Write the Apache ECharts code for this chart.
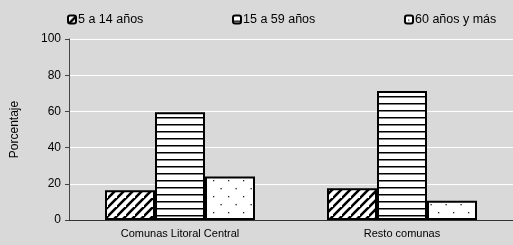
<!DOCTYPE html>
<html>
<head>
<meta charset="utf-8">
<script src="https://cdn.jsdelivr.net/npm/echarts@6/dist/echarts.min.js"></script>
<style>
  html, body { margin: 0; padding: 0; background: #d9d9d9; }
  #chart { width: 513px; height: 245px; }
</style>
</head>
<body>
<div id="chart"></div>
<script>
var categories = ['Comunas Litoral Central', 'Resto comunas'];
var seriesNames = ['5 a 14 años', '15 a 59 años', '60 años y más'];
var edad5a14 = [16.5, 17.5];
var edad15a59 = [59.5, 71.3];
var edad60mas = [24, 10.7];

// patrones de relleno
function makePattern(kind) {
    var c = document.createElement('canvas');
    var ctx = c.getContext('2d');
    if (kind === 'diag') {
        c.width = 9; c.height = 9;
        ctx.fillStyle = '#fff';
        ctx.fillRect(0, 0, 9, 9);
        ctx.strokeStyle = '#000';
        ctx.lineWidth = 2.6;
        ctx.beginPath();
        ctx.moveTo(-2, 11); ctx.lineTo(11, -2);
        ctx.moveTo(-11, 11); ctx.lineTo(2, -2);
        ctx.moveTo(7, 20); ctx.lineTo(20, 7);
        ctx.stroke();
    } else if (kind === 'horiz') {
        c.width = 8; c.height = 7;
        ctx.fillStyle = '#fff';
        ctx.fillRect(0, 0, 8, 7);
        ctx.fillStyle = '#000';
        ctx.fillRect(0, 5, 8, 1.5);
    } else {
        c.width = 15; c.height = 16;
        ctx.fillStyle = '#fff';
        ctx.fillRect(0, 0, 15, 16);
        ctx.fillStyle = '#222';
        ctx.fillRect(3, 4, 1.3, 1.3);
        ctx.fillRect(10.5, 12, 1.3, 1.3);
    }
    return { image: c, repeat: 'repeat' };
}

var patterns = [makePattern('diag'), makePattern('horiz'), makePattern('dots')];
var values = [edad5a14, edad15a59, edad60mas];
var legendLeft = [67, 232, 404];

var chart = echarts.init(document.getElementById('chart'));
chart.setOption({
    backgroundColor: '#d9d9d9',
    animation: false,
    textStyle: { fontFamily: 'Liberation Sans, Arial, sans-serif' },
    legend: seriesNames.map(function (name, i) {
        return {
            data: [name],
            top: 13,
            left: legendLeft[i],
            padding: 0,
            itemWidth: 8,
            itemHeight: 8,
            itemStyle: { borderColor: '#000', borderWidth: 2 },
            textStyle: { fontSize: 12.5, color: '#000', padding: [0, 0, 0, -3] }
        };
    }),
    grid: { left: 69, right: 0, top: 39, bottom: 25 },
    xAxis: {
        type: 'category',
        data: categories,
        axisLine: { lineStyle: { color: '#333', width: 1 } },
        axisTick: { show: false },
        axisLabel: { color: '#000', fontSize: 11, margin: 8 }
    },
    yAxis: {
        type: 'value',
        min: 0,
        max: 100,
        interval: 20,
        name: 'Porcentaje',
        nameLocation: 'middle',
        nameRotate: 90,
        nameGap: 48,
        nameTextStyle: { color: '#000', fontSize: 12 },
        axisLine: { show: true, lineStyle: { color: '#444' } },
        axisTick: { show: true, length: 4, lineStyle: { color: '#444' } },
        axisLabel: { color: '#000', fontSize: 12, margin: 8 },
        splitLine: { lineStyle: { color: '#fff', width: 1 } }
    },
    series: seriesNames.map(function (name, i) {
        return {
            name: name,
            type: 'bar',
            data: values[i],
            barWidth: 50,
            barGap: '0%',
            itemStyle: { color: patterns[i], borderColor: '#000', borderWidth: 2 }
        };
    })
});
</script>
</body>
</html>
